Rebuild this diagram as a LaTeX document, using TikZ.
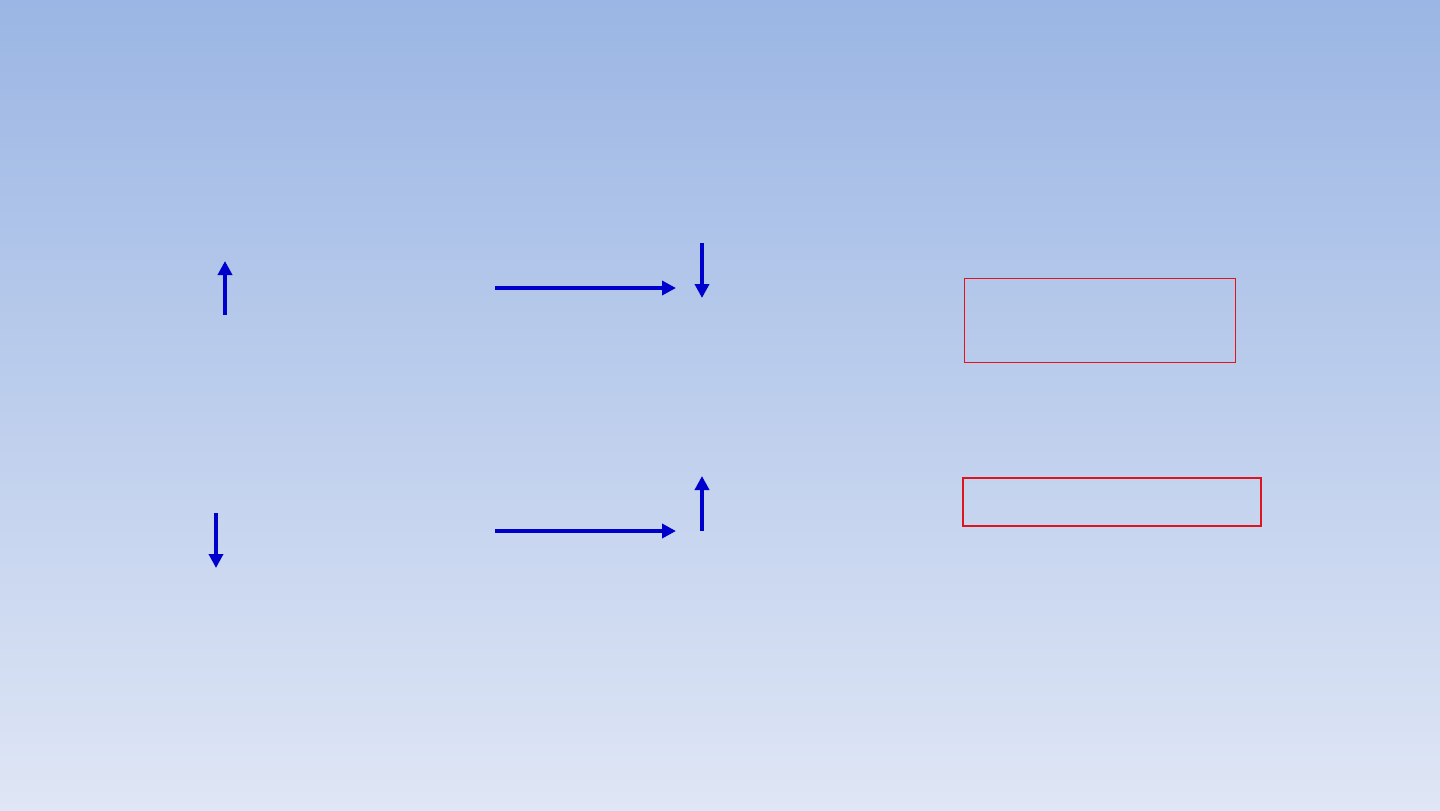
\documentclass[tikz,border=0pt]{standalone}
\usetikzlibrary{arrows.meta}
\definecolor{bgtop}{RGB}{155,182,228}
\definecolor{bgbot}{RGB}{223,230,245}
\definecolor{arrowblue}{RGB}{0,0,204}
\definecolor{boxred}{RGB}{222,20,30}
\tikzset{
  bluearrow/.style={draw=arrowblue, line width=2pt, -{Triangle[length=7pt,width=7pt]}},
  redbox/.style={draw=boxred, line width=0.6pt},
  redboxthick/.style={draw=boxred, line width=1.1pt}
}
\begin{document}
\begin{tikzpicture}[x=0.5pt,y=-0.5pt]
\shade[top color=bgtop, bottom color=bgbot] (0,0) rectangle (1440,810);
\useasboundingbox (0,0) rectangle (1440,810);
% arrow end points
\coordinate (a1s) at (225,315); \coordinate (a1e) at (225,261);
\coordinate (a2s) at (495,288); \coordinate (a2e) at (676,288);
\coordinate (a3s) at (702,243); \coordinate (a3e) at (702,298);
\coordinate (a4s) at (216,513); \coordinate (a4e) at (216,568);
\coordinate (a5s) at (495,531); \coordinate (a5e) at (676,531);
\coordinate (a6s) at (702,531); \coordinate (a6e) at (702,476);
\draw[bluearrow] (a1s) -- (a1e);
\draw[bluearrow] (a2s) -- (a2e);
\draw[bluearrow] (a3s) -- (a3e);
\draw[bluearrow] (a4s) -- (a4e);
\draw[bluearrow] (a5s) -- (a5e);
\draw[bluearrow] (a6s) -- (a6e);
% red boxes
\node[redbox, minimum width=135.5pt, minimum height=42pt, inner sep=0pt, anchor=north west] (box1) at (964,278) {};
\node[redboxthick, minimum width=149pt, minimum height=24pt, inner sep=0pt, anchor=north west] (box2) at (962,477) {};
\end{tikzpicture}
\end{document}
